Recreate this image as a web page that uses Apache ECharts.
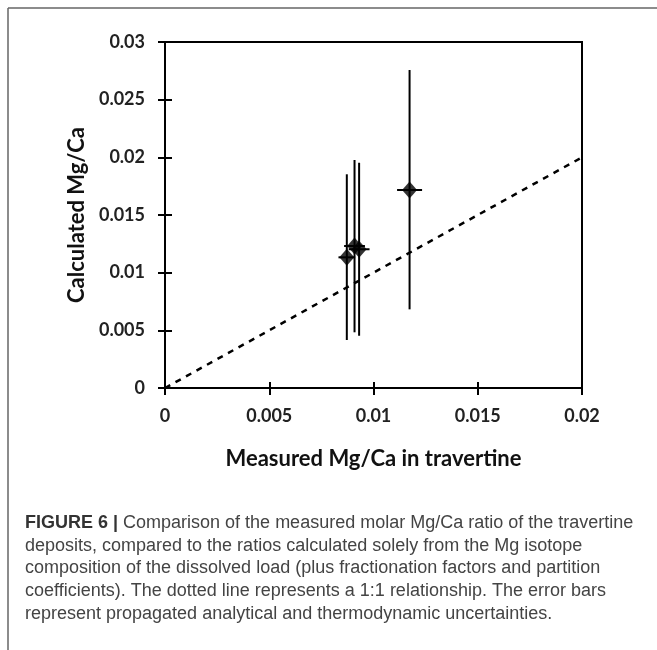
<!DOCTYPE html>
<html>
<head>
<meta charset="utf-8">
<script src="https://cdn.jsdelivr.net/npm/echarts@6/dist/echarts.min.js"></script>
<style>
  html, body { margin: 0; padding: 0; background: #fff; }
  #chart { width: 657px; height: 650px; }
</style>
</head>
<body>
<div id="chart"></div>
<script>
// measured (x) vs calculated (y) Mg/Ca
const measured = [0.00872, 0.00909, 0.00931, 0.01173]
const calculated = [0.01133, 0.01231, 0.01203, 0.01717]
const calcLow = [0.00416, 0.00483, 0.00453, 0.00682]
const calcHigh = [0.01853, 0.01977, 0.01953, 0.02757]
const measErr = [0.0004, 0.0005, 0.0005, 0.0006]
const oneToOne = [[0, 0], [0.02, 0.02]]
const xTicks = ['0', '0.005', '0.01', '0.015', '0.02']
const yTicks = ['0', '0.005', '0.01', '0.015', '0.02', '0.025', '0.03']

const captionLines = [
  ['FIGURE 6 | ', 'Comparison of the measured molar Mg/Ca ratio of the travertine'],
  ['', 'deposits, compared to the ratios calculated solely from the Mg isotope'],
  ['', 'composition of the dissolved load (plus fractionation factors and partition'],
  ['', 'coefficients). The dotted line represents a 1:1 relationship. The error bars'],
  ['', 'represent propagated analytical and thermodynamic uncertainties.']
]

const points = measured.map((x, i) => [x, calculated[i]])
const errRows = measured.map((x, i) => [x, calculated[i], calcLow[i], calcHigh[i], measErr[i]])

const chart = echarts.init(document.getElementById('chart'))

const tickFont = { fontFamily: 'Lato', fontSize: 18, fontWeight: 'bold', color: '#222' }

function renderErr (params, api) {
  const x = api.value(0)
  const y = api.value(1)
  const top = api.coord([x, api.value(3)])
  const bot = api.coord([x, api.value(2)])
  const l = api.coord([x - api.value(4), y])
  const r = api.coord([x + api.value(4), y])
  const st = { stroke: '#000', lineWidth: 2 }
  return {
    type: 'group',
    children: [
      { type: 'line', shape: { x1: top[0], y1: top[1], x2: bot[0], y2: bot[1] }, style: st },
      { type: 'line', shape: { x1: l[0], y1: l[1], x2: r[0], y2: r[1] }, style: st }
    ]
  }
}

const graphics = [
  { type: 'line', shape: { x1: 8, y1: 8, x2: 657, y2: 8 }, style: { stroke: '#666', lineWidth: 1.5 } },
  { type: 'line', shape: { x1: 8, y1: 8, x2: 8, y2: 650 }, style: { stroke: '#666', lineWidth: 1.5 } }
]
captionLines.forEach((ln, i) => {
  graphics.push({
    type: 'text',
    left: 25,
    top: 514 + i * 22.75,
    style: {
      text: (ln[0] ? '{b|' + ln[0] + '}' : '') + '{n|' + ln[1] + '}',
      rich: {
        b: { fontFamily: 'Liberation Sans', fontSize: 18, fontWeight: 'bold', fill: '#333' },
        n: { fontFamily: 'Liberation Sans', fontSize: 18, fill: '#444' }
      }
    }
  })
})

const option = {
  animation: false,
  backgroundColor: '#fff',
  graphic: graphics,
  grid: {
    left: 165,
    right: 75,
    top: 42,
    bottom: 262,
    show: true,
    borderColor: '#000',
    borderWidth: 2
  },
  xAxis: [{
    type: 'value',
    min: 0,
    max: 0.02,
    interval: 0.005,
    name: 'Measured Mg/Ca in travertine',
    nameLocation: 'middle',
    nameGap: 60,
    nameTextStyle: { fontFamily: 'Lato', fontSize: 22, fontWeight: 'bold', color: '#111' },
    axisLine: { lineStyle: { color: '#000', width: 2 } },
    axisTick: { show: true, length: 7, lineStyle: { color: '#000', width: 2 } },
    axisLabel: Object.assign({ margin: 19, formatter: (v, i) => xTicks[i] }, tickFont),
    splitLine: { show: false }
  }, {
    type: 'value',
    min: 0,
    max: 0.02,
    interval: 0.005,
    position: 'bottom',
    axisLine: { show: false },
    axisTick: { show: true, inside: true, length: 6, lineStyle: { color: '#000', width: 2 } },
    axisLabel: { show: false },
    splitLine: { show: false }
  }],
  yAxis: [{
    type: 'value',
    min: 0,
    max: 0.03,
    interval: 0.005,
    name: 'Calculated Mg/Ca',
    nameLocation: 'middle',
    nameGap: 77,
    nameRotate: 90,
    nameTextStyle: { fontFamily: 'Lato', fontSize: 22, fontWeight: 'bold', color: '#111' },
    axisLine: { lineStyle: { color: '#000', width: 2 } },
    axisTick: { show: true, length: 7, lineStyle: { color: '#000', width: 2 } },
    axisLabel: Object.assign({ margin: 20, formatter: (v, i) => yTicks[i] }, tickFont),
    splitLine: { show: false }
  }, {
    type: 'value',
    min: 0,
    max: 0.03,
    interval: 0.005,
    position: 'left',
    axisLine: { show: false },
    axisTick: { show: true, inside: true, length: 7, lineStyle: { color: '#000', width: 2 } },
    axisLabel: { show: false },
    splitLine: { show: false }
  }],
  series: [{
    type: 'line',
    data: oneToOne,
    symbol: 'none',
    lineStyle: { color: '#000', width: 2.5, type: [6, 6] },
    z: 1
  }, {
    type: 'custom',
    data: errRows,
    renderItem: renderErr,
    z: 2
  }, {
    type: 'scatter',
    data: points,
    symbol: 'diamond',
    symbolSize: [15, 17],
    itemStyle: { color: '#000' },
    z: 3
  }]
}

chart.setOption(option)
</script>
</body>
</html>
